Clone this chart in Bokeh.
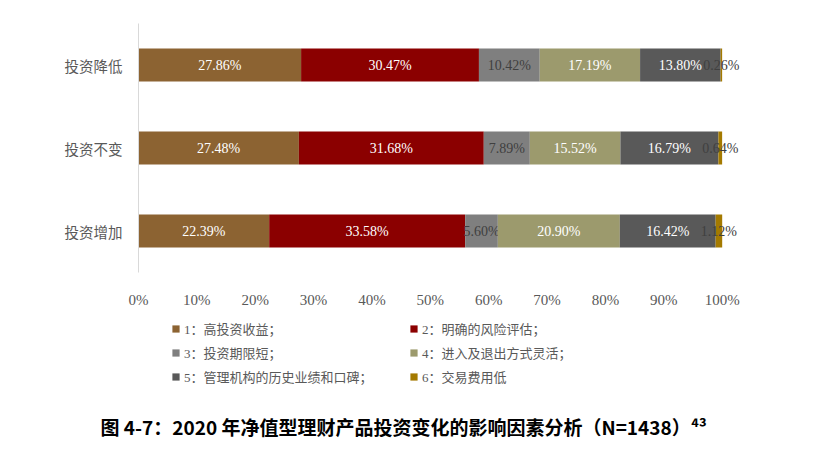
from bokeh.plotting import figure
from bokeh.layouts import column
from bokeh.models import FactorRange, Range1d, Legend, LegendItem, Title, FixedTicker, PrintfTickFormatter
from bokeh.core.properties import value
from bokeh.embed import file_html
from bokeh.resources import INLINE

# categories bottom -> top
cats = ["投资增加", "投资不变", "投资降低"]
factors = ["1：高投资收益；", "2：明确的风险评估；", "3：投资期限短；",
           "4：进入及退出方式灵活；", "5：管理机构的历史业绩和口碑；", "6：交易费用低"]
f1 = [22.39, 27.48, 27.86]
f2 = [33.58, 31.68, 30.47]
f3 = [5.60, 7.89, 10.42]
f4 = [20.90, 15.52, 17.19]
f5 = [16.42, 16.79, 13.80]
f6 = [1.12, 0.64, 0.26]
x_ticks = [0, 10, 20, 30, 40, 50, 60, 70, 80, 90, 100]
title = "图 4-7：2020 年净值型理财产品投资变化的影响因素分析（N=1438）⁴³"

series = [f1, f2, f3, f4, f5, f6]
colors = ["#8C6332", "#8B0000", "#7F7F7F", "#9C9A6D", "#595959", "#A47A00"]
label_colors = ["white", "white", "#404040", "white", "white", "#404040"]

serif = "Liberation Serif"
cjk = "Noto Sans CJK SC"

# x range runs a bit past 100 so the last labels are not clipped
chart = figure(width=813, height=310, y_range=FactorRange(*cats), x_range=Range1d(0, 110),
               output_backend="svg", toolbar_location=None,
               min_border_left=138, min_border_right=33, min_border_top=23, min_border_bottom=35)
chart.outline_line_color = None
chart.xgrid.visible = False
chart.ygrid.visible = False

left = [0, 0, 0]
for vals, c, lc in zip(series, colors, label_colors):
    right = [l + v for l, v in zip(left, vals)]
    chart.hbar(y=cats, left=left, right=right, height=0.4, color=c, line_color=None)
    mids = [(l + rr) / 2 for l, rr in zip(left, right)]
    chart.text(x=mids, y=cats, text=["%.2f%%" % v for v in vals], text_align="center",
               text_baseline="middle", text_color=lc, text_font=value(serif), text_font_size="14px")
    left = right

chart.xaxis.ticker = FixedTicker(ticks=x_ticks)
chart.xaxis.formatter = PrintfTickFormatter(format="%d%%")
chart.xaxis.axis_line_color = None
chart.xaxis.major_tick_line_color = None
chart.xaxis.minor_tick_line_color = None
chart.xaxis.major_label_standoff = 13
chart.xaxis.major_label_text_font = serif
chart.xaxis.major_label_text_font_size = "15px"
chart.xaxis.major_label_text_color = "#595959"

chart.yaxis.axis_line_color = "#D9D9D9"
chart.yaxis.major_tick_line_color = None
chart.yaxis.minor_tick_line_color = None
chart.yaxis.major_label_standoff = 10
chart.yaxis.major_label_text_font = cjk
chart.yaxis.major_label_text_font_size = "14.5px"
chart.yaxis.major_label_text_color = "#595959"

# legend + caption live in a second, axis-less figure under the chart
# (its frame gets aligned with the chart frame by the column layout)
foot = figure(width=813, height=140, x_range=Range1d(0, 1), y_range=Range1d(0, 1),
              output_backend="svg", toolbar_location=None, min_border=0, min_border_bottom=40,
              x_axis_location=None, y_axis_location=None)
foot.outline_line_color = None
foot.grid.visible = False

# zero-width swatch renderers, only used for the legend glyphs
swatch = {}
for name, c in zip(factors, colors):
    swatch[name] = foot.hbar(y=[0], left=[0], right=[0], height=0.1, color=c, line_color=None)
order = [0, 2, 4, 1, 3, 5]  # column-major fill -> rows 1|2, 3|4, 5|6
items = [LegendItem(label=factors[i], renderers=[swatch[factors[i]]]) for i in order]

legend = Legend(items=items, ncols=2, location=(33, 24),
                margin=0, padding=0, spacing=5, glyph_width=9, glyph_height=9,
                label_height=16, label_width=220, label_standoff=4, border_line_color=None,
                background_fill_alpha=0,
                label_text_font="'Liberation Serif', 'Noto Sans CJK SC'",
                label_text_font_size="13px", label_text_color="#595959")
foot.add_layout(legend)

foot.add_layout(Title(text=title, align="left", offset=-38, standoff=0,
                      text_font=cjk, text_font_size="19px", text_font_style="bold",
                      text_color="black"), "below")

p = column(chart, foot)
open("out.html", "w").write(file_html(p, INLINE))
